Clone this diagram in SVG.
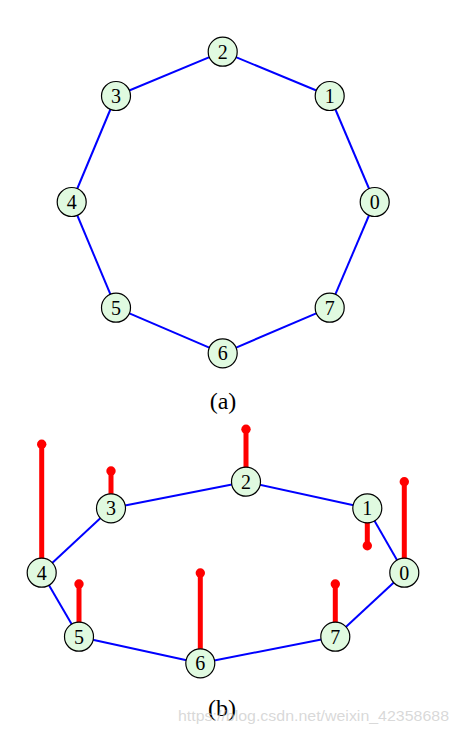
<svg xmlns="http://www.w3.org/2000/svg" width="459" height="734" viewBox="0 0 459 734">
<style>
.n circle{fill:#e0fae0;stroke:#000;stroke-width:1.2}
.n text{font-family:"Liberation Serif",serif;font-size:20px;text-anchor:middle;fill:#000}
.e line{stroke:#0000ff;stroke-width:2}
.p line{stroke:#ff0000;stroke-width:5}
.p circle{fill:#ff0000}
.cap{font-family:"Liberation Serif",serif;font-size:24px;text-anchor:middle;fill:#000}
</style>
<rect width="459" height="734" fill="#fff"/>
<g id="edges-a" class="e">
<line x1="374.7" y1="202" x2="329.7" y2="96"/>
<line x1="329.7" y1="96" x2="222.7" y2="51.7"/>
<line x1="222.7" y1="51.7" x2="116" y2="96"/>
<line x1="116" y1="96" x2="71.7" y2="202"/>
<line x1="71.7" y1="202" x2="116" y2="307.7"/>
<line x1="116" y1="307.7" x2="222.7" y2="353.3"/>
<line x1="222.7" y1="353.3" x2="329.7" y2="307.7"/>
<line x1="329.7" y1="307.7" x2="374.7" y2="202"/>
</g>
<g id="a0" class="n"><circle cx="374.7" cy="202" r="14.5"/><text x="374.7" y="208.8">0</text></g>
<g id="a1" class="n"><circle cx="329.7" cy="96" r="14.5"/><text x="329.7" y="102.8">1</text></g>
<g id="a2" class="n"><circle cx="222.7" cy="51.7" r="14.5"/><text x="222.7" y="58.5">2</text></g>
<g id="a3" class="n"><circle cx="116" cy="96" r="14.5"/><text x="116" y="102.8">3</text></g>
<g id="a4" class="n"><circle cx="71.7" cy="202" r="14.5"/><text x="71.7" y="208.8">4</text></g>
<g id="a5" class="n"><circle cx="116" cy="307.7" r="14.5"/><text x="116" y="314.5">5</text></g>
<g id="a6" class="n"><circle cx="222.7" cy="353.3" r="14.5"/><text x="222.7" y="360.1">6</text></g>
<g id="a7" class="n"><circle cx="329.7" cy="307.7" r="14.5"/><text x="329.7" y="314.5">7</text></g>
<text class="cap" x="223" y="409">(a)</text>
<g id="edges-b" class="e">
<line x1="404.3" y1="572.7" x2="367.3" y2="508.3"/>
<line x1="367.3" y1="508.3" x2="246" y2="481.7"/>
<line x1="246" y1="481.7" x2="111" y2="508.3"/>
<line x1="111" y1="508.3" x2="41.7" y2="572.7"/>
<line x1="41.7" y1="572.7" x2="79" y2="636.7"/>
<line x1="79" y1="636.7" x2="200.3" y2="663.3"/>
<line x1="200.3" y1="663.3" x2="335.3" y2="636.7"/>
<line x1="335.3" y1="636.7" x2="404.3" y2="572.7"/>
</g>
<g id="poles" class="p">
<line x1="404.3" y1="481.7" x2="404.3" y2="572.7"/><circle cx="404.3" cy="481.7" r="4.7"/>
<line x1="367.3" y1="545.7" x2="367.3" y2="508.3"/><circle cx="367.3" cy="545.7" r="4.7"/>
<line x1="246" y1="429.3" x2="246" y2="481.7"/><circle cx="246" cy="429.3" r="4.7"/>
<line x1="111" y1="471" x2="111" y2="508.3"/><circle cx="111" cy="471" r="4.7"/>
<line x1="41.7" y1="444.3" x2="41.7" y2="572.7"/><circle cx="41.7" cy="444.3" r="4.7"/>
<line x1="79" y1="584" x2="79" y2="636.7"/><circle cx="79" cy="584" r="4.7"/>
<line x1="200.3" y1="573" x2="200.3" y2="663.3"/><circle cx="200.3" cy="573" r="4.7"/>
<line x1="335.3" y1="584" x2="335.3" y2="636.7"/><circle cx="335.3" cy="584" r="4.7"/>
</g>
<g id="b0" class="n"><circle cx="404.3" cy="572.7" r="14.5"/><text x="404.3" y="579.5">0</text></g>
<g id="b1" class="n"><circle cx="367.3" cy="508.3" r="14.5"/><text x="367.3" y="515.1">1</text></g>
<g id="b2" class="n"><circle cx="246" cy="481.7" r="14.5"/><text x="246" y="488.5">2</text></g>
<g id="b3" class="n"><circle cx="111" cy="508.3" r="14.5"/><text x="111" y="515.1">3</text></g>
<g id="b4" class="n"><circle cx="41.7" cy="572.7" r="14.5"/><text x="41.7" y="579.5">4</text></g>
<g id="b5" class="n"><circle cx="79" cy="636.7" r="14.5"/><text x="79" y="643.5">5</text></g>
<g id="b6" class="n"><circle cx="200.3" cy="663.3" r="14.5"/><text x="200.3" y="670.1">6</text></g>
<g id="b7" class="n"><circle cx="335.3" cy="636.7" r="14.5"/><text x="335.3" y="643.5">7</text></g>
<text class="cap" x="222" y="716">(b)</text>
<text x="178" y="721" font-family="Liberation Sans, sans-serif" font-size="15" fill="#c8c8c8" fill-opacity="0.7" textLength="271" lengthAdjust="spacingAndGlyphs">https://blog.csdn.net/weixin_42358688</text>
</svg>
